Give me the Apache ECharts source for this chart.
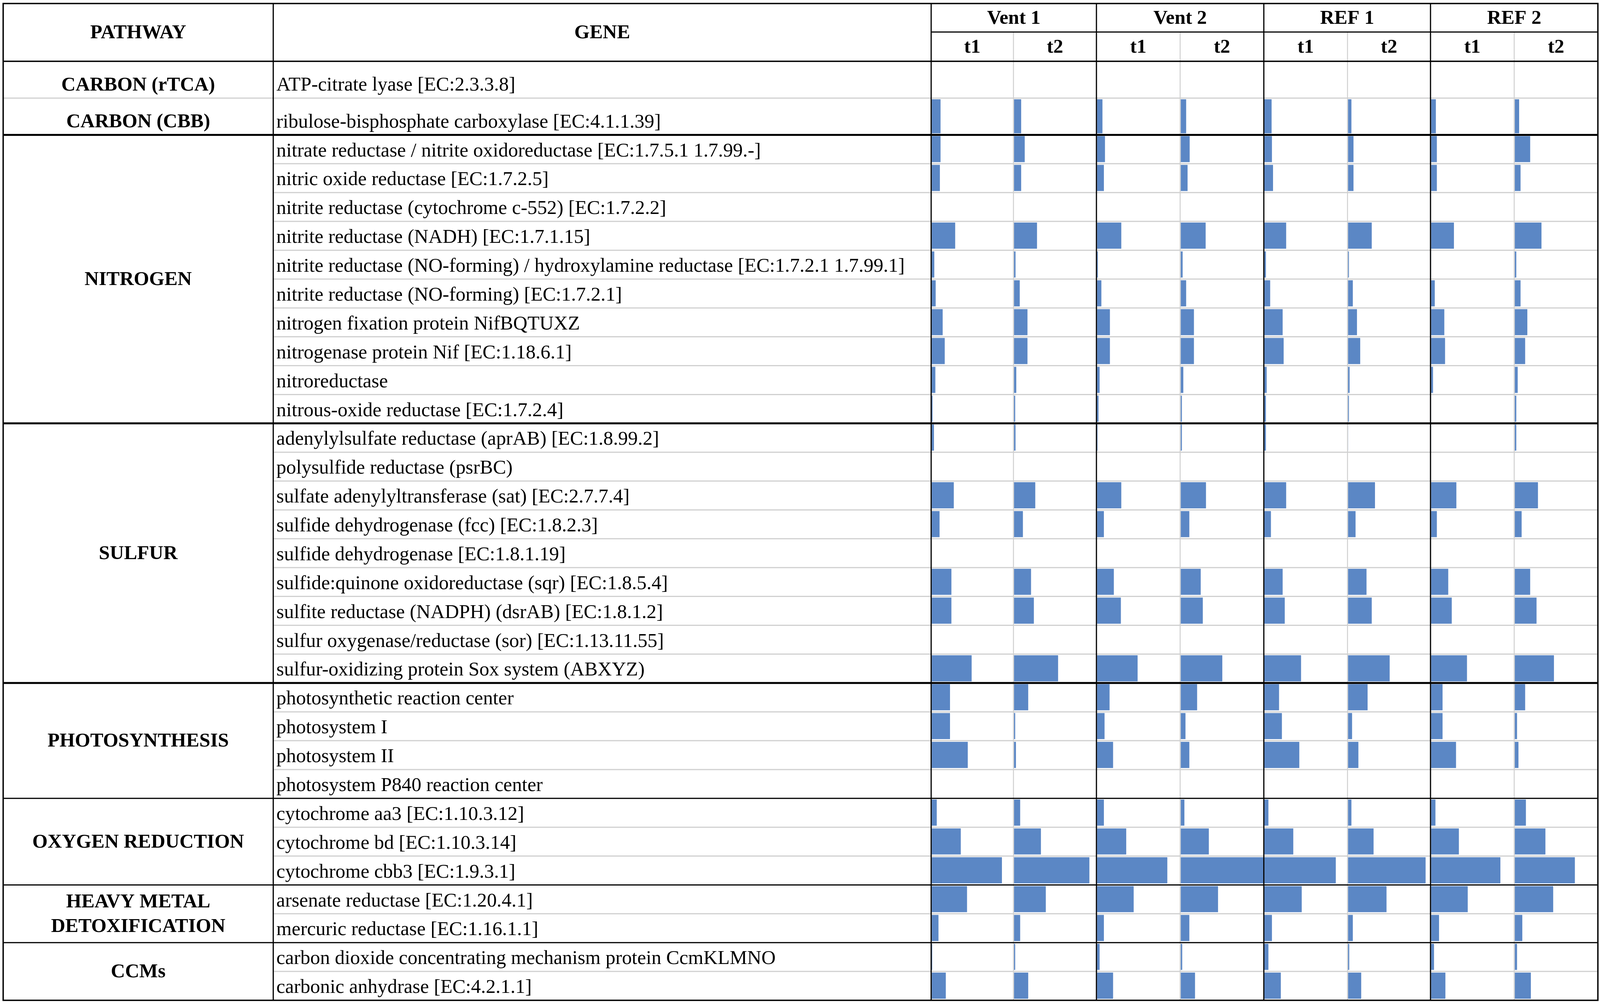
<!DOCTYPE html>
<html>
<head>
<meta charset="utf-8">
<title>Functional genes by pathway</title>
<script src="https://cdn.jsdelivr.net/npm/echarts@6/dist/echarts.min.js"></script>
<style>
    html, body { margin: 0; padding: 0; background: #fff; overflow: hidden; }
    #chart { width: 100vw; height: 100vh; }
</style>
</head>
<body>
<div id="chart"></div>
<script>
var genes = [
    'ATP-citrate lyase [EC:2.3.3.8]',
    'ribulose-bisphosphate carboxylase [EC:4.1.1.39]',
    'nitrate reductase / nitrite oxidoreductase [EC:1.7.5.1 1.7.99.-]',
    'nitric oxide reductase [EC:1.7.2.5]',
    'nitrite reductase (cytochrome c-552) [EC:1.7.2.2]',
    'nitrite reductase (NADH) [EC:1.7.1.15]',
    'nitrite reductase (NO-forming) / hydroxylamine reductase [EC:1.7.2.1 1.7.99.1]',
    'nitrite reductase (NO-forming) [EC:1.7.2.1]',
    'nitrogen fixation protein NifBQTUXZ',
    'nitrogenase protein Nif [EC:1.18.6.1]',
    'nitroreductase',
    'nitrous-oxide reductase [EC:1.7.2.4]',
    'adenylylsulfate reductase (aprAB) [EC:1.8.99.2]',
    'polysulfide reductase (psrBC)',
    'sulfate adenylyltransferase (sat) [EC:2.7.7.4]',
    'sulfide dehydrogenase (fcc) [EC:1.8.2.3]',
    'sulfide dehydrogenase [EC:1.8.1.19]',
    'sulfide:quinone oxidoreductase (sqr) [EC:1.8.5.4]',
    'sulfite reductase (NADPH) (dsrAB) [EC:1.8.1.2]',
    'sulfur oxygenase/reductase (sor) [EC:1.13.11.55]',
    'sulfur-oxidizing protein Sox system (ABXYZ)',
    'photosynthetic reaction center',
    'photosystem I',
    'photosystem II',
    'photosystem P840 reaction center',
    'cytochrome aa3 [EC:1.10.3.12]',
    'cytochrome bd [EC:1.10.3.14]',
    'cytochrome cbb3 [EC:1.9.3.1]',
    'arsenate reductase [EC:1.20.4.1]',
    'mercuric reductase [EC:1.16.1.1]',
    'carbon dioxide concentrating mechanism protein CcmKLMNO',
    'carbonic anhydrase [EC:4.2.1.1]'
];
var pathways = ['CARBON (rTCA)', 'CARBON (CBB)', 'NITROGEN', 'SULFUR', 'PHOTOSYNTHESIS',
    'OXYGEN REDUCTION', 'HEAVY METAL\nDETOXIFICATION', 'CCMs'];
var pathwayRows = [1, 1, 10, 9, 4, 3, 2, 2];
var sites = ['Vent 1', 'Vent 2', 'REF 1', 'REF 2'];
var times = ['t1', 't2'];

// bar length, % of the cell width
var vent1T1 = [0, 11.4, 11.4, 10.6, 0, 29.2, 3.8, 5.5, 14.0, 16.5, 5.1, 1.7, 3.4, 0, 27.5, 10.2, 0, 24.6, 24.6, 0, 49.2, 22.9, 22.9, 44.5, 0, 6.8, 36.0, 86.0, 43.6, 8.9, 1.3, 17.8];
var vent1T2 = [0, 9.3, 13.6, 9.3, 0, 28.4, 2.5, 7.6, 16.9, 16.9, 3.4, 2.1, 2.5, 0, 26.3, 11.4, 0, 21.2, 24.6, 0, 53.8, 17.8, 2.1, 3.0, 0, 8.1, 33.1, 91.5, 39.0, 8.1, 2.1, 17.8];
var vent2T1 = [0, 7.2, 10.2, 8.9, 0, 29.7, 1.7, 5.9, 16.1, 16.1, 3.8, 2.5, 1.3, 0, 29.7, 8.9, 0, 20.8, 29.2, 0, 49.2, 15.7, 9.7, 19.9, 0, 8.9, 35.6, 84.7, 44.5, 8.9, 3.8, 19.9];
var vent2T2 = [0, 7.2, 11.4, 8.9, 0, 30.5, 3.0, 7.2, 16.5, 16.5, 3.8, 2.1, 2.1, 0, 30.9, 11.0, 0, 24.6, 27.1, 0, 50.4, 20.3, 6.4, 11.0, 0, 5.1, 34.3, 100, 45.3, 11.0, 2.5, 17.8];
var ref1T1 = [0, 9.3, 9.7, 11.0, 0, 26.7, 2.5, 7.6, 22.5, 23.7, 3.4, 2.5, 2.5, 0, 26.7, 8.5, 0, 22.5, 25.0, 0, 44.5, 18.2, 21.6, 42.4, 0, 5.5, 35.2, 86.0, 45.3, 9.7, 5.5, 20.3];
var ref1T2 = [0, 4.7, 7.2, 7.2, 0, 29.2, 1.7, 6.4, 11.4, 15.3, 2.5, 1.7, 0.8, 0, 33.1, 9.7, 0, 22.9, 29.2, 0, 50.8, 24.2, 5.5, 13.1, 0, 4.7, 31.4, 94.1, 47.0, 6.4, 2.1, 16.5];
var ref2T1 = [0, 6.4, 7.6, 7.6, 0, 28.0, 0.8, 5.1, 16.5, 17.4, 3.0, 0.8, 0.8, 0, 30.9, 7.6, 0, 21.2, 25.4, 0, 43.6, 14.4, 14.4, 30.5, 0, 5.9, 33.9, 83.5, 44.5, 10.2, 4.2, 17.8];
var ref2T2 = [0, 5.9, 19.1, 7.6, 0, 32.6, 2.5, 7.6, 15.7, 13.1, 4.2, 2.5, 2.5, 0, 28.4, 8.9, 0, 19.1, 26.7, 0, 47.5, 13.1, 3.4, 5.1, 0, 14.0, 37.3, 72.5, 46.6, 9.7, 3.4, 19.9];
var columns = [vent1T1, vent1T2, vent2T1, vent2T2, ref1T1, ref1T2, ref2T1, ref2T2];

// layout is drawn for a 4550x2574 page and scaled to the real window
var dom = document.getElementById('chart');
var sx = dom.clientWidth / 4550, sy = dom.clientHeight / 2574;
var fs = Math.min(sx, sy);
function X(v) { return v * sx; }
function Y(v) { return v * sy; }

var FONT = '"Liberation Serif", "Times New Roman", serif';
var BLUE = '#5b87c5';
var GRAY = '#d0d0d0';
var box = {left: X(9), top: Y(9), right: X(4544), bottom: Y(2562)};
var headMid = Y(82), bodyTop = Y(157);
var pathRight = X(777), geneRight = X(2648);
var colEdges = [2648, 2882, 3118, 3356, 3594, 3832, 4068, 4306, 4544].map(X);
// line under each pathway block: 0 = thin grey
var sectionLine = [0, 5, 5, 5, 3, 3, 3];

// row heights in row units; single-row pathways at the top are taller
var rowStart = [], rowSize = [], sectionStart = [], sectionEnd = [];
var u = 0;
pathwayRows.forEach(function (n) {
    sectionStart.push(rowStart.length);
    for (var k = 0; k < n; k++) {
        var s = n === 1 ? 1.275 : 1;
        rowStart.push(u);
        rowSize.push(s);
        u += s;
    }
    sectionEnd.push(u);
});
var totalUnits = u;
var unitPx = (box.bottom - bodyTop) / totalUnits;
function rowY(units) {
    return bodyTop + units * unitPx;
}

var grids = [], xAxes = [], yAxes = [], series = [];
function addGrid(left, right) {
    var i = grids.length;
    grids.push({left: left, top: bodyTop, width: right - left, height: box.bottom - bodyTop});
    xAxes.push({type: 'value', gridIndex: i, min: 0, max: 100, show: false});
    yAxes.push({type: 'value', gridIndex: i, min: 0, max: totalUnits, inverse: true, show: false});
    return i;
}

columns.forEach(function (vals, c) {
    var g = addGrid(colEdges[c], colEdges[c + 1]);
    series.push({
        type: 'custom',
        name: sites[c >> 1] + ' ' + times[c % 2],
        xAxisIndex: g,
        yAxisIndex: g,
        data: vals.map(function (v, r) { return [v, r]; }),
        encode: {x: 0, y: 1},
        renderItem: function (params, api) {
            var v = api.value(0), r = api.value(1);
            if (!v) return null;
            var a = api.coord([0, rowStart[r]]);
            var b = api.coord([v, rowStart[r] + rowSize[r]]);
            return {
                type: 'rect',
                shape: {x: a[0] + 1.5, y: a[1] + 3 * sy, width: b[0] - a[0] - 1.5, height: b[1] - a[1] - 7 * sy},
                style: {fill: BLUE}
            };
        }
    });
});

var gGene = addGrid(pathRight, geneRight);
series.push({
    type: 'custom',
    xAxisIndex: gGene,
    yAxisIndex: gGene,
    data: genes.map(function (g, r) { return [0, r]; }),
    renderItem: function (params, api) {
        var r = api.value(1);
        var p = api.coord([0, rowStart[r] + rowSize[r]]);
        return {
            type: 'text',
            x: p[0] + 9 * sx,
            y: p[1] - 32 * sy,
            style: {text: genes[params.dataIndex], fontSize: 56 * fs, fontFamily: FONT, fill: '#000',
                align: 'left', verticalAlign: 'middle'}
        };
    }
});

var gPath = addGrid(box.left, pathRight);
series.push({
    type: 'custom',
    xAxisIndex: gPath,
    yAxisIndex: gPath,
    data: pathways.map(function (p, i) { return [50, i]; }),
    renderItem: function (params, api) {
        var i = api.value(1);
        var top = api.coord([api.value(0), rowStart[sectionStart[i]]]);
        var bot = api.coord([api.value(0), sectionEnd[i]]);
        var y = pathwayRows[i] === 1 ? bot[1] - 32 * sy : (top[1] + bot[1]) / 2 + 2 * sy;
        return {
            type: 'text',
            x: top[0],
            y: y,
            style: {text: pathways[params.dataIndex], fontSize: 56 * fs, fontWeight: 'bold', fontFamily: FONT,
                fill: '#000', align: 'center', verticalAlign: 'middle', lineHeight: 70 * fs}
        };
    }
});

// table rules and header cells
var graphic = [];
function hline(y, x1, x2, w, color) {
    graphic.push({type: 'line', z: 100, shape: {x1: x1, y1: y, x2: x2, y2: y},
        style: {stroke: color, lineWidth: w}});
}
function vline(x, y1, y2, w, color) {
    graphic.push({type: 'line', z: 100, shape: {x1: x, y1: y1, x2: x, y2: y2},
        style: {stroke: color, lineWidth: w}});
}
function headText(text, x, y) {
    graphic.push({type: 'text', z: 100, x: x, y: y,
        style: {text: text, fontSize: 56 * fs, fontWeight: 'bold', fontFamily: FONT, fill: '#000',
            align: 'center', verticalAlign: 'middle'}});
}

rowStart.forEach(function (s, r) {
    if (sectionStart.indexOf(r) < 0) hline(rowY(s), pathRight, box.right, 3, GRAY);
});
for (var k = 1; k < colEdges.length - 1; k += 2) {
    vline(colEdges[k], headMid, box.bottom, 2.5, GRAY);
}
sectionLine.forEach(function (w, i) {
    var y = rowY(sectionEnd[i]);
    if (w === 0) hline(y, box.left, box.right, 3, GRAY);
    else hline(y, box.left, box.right, w, '#000');
});
hline(bodyTop, box.left, box.right, 3.5, '#000');
hline(headMid, geneRight, box.right, 3, '#000');
[pathRight, geneRight, colEdges[2], colEdges[4], colEdges[6]].forEach(function (x) {
    vline(x, box.top, box.bottom, 3, '#000');
});
graphic.push({type: 'rect', z: 100, shape: {x: box.left, y: box.top, width: box.right - box.left, height: box.bottom - box.top},
    style: {fill: 'none', stroke: '#000', lineWidth: 3.5}});

headText('PATHWAY', (box.left + pathRight) / 2, (box.top + bodyTop) / 2 + 2 * sy);
headText('GENE', (pathRight + geneRight) / 2, (box.top + bodyTop) / 2 + 2 * sy);
sites.forEach(function (s, i) {
    headText(s, (colEdges[2 * i] + colEdges[2 * i + 2]) / 2, (box.top + headMid) / 2 + 2 * sy);
    times.forEach(function (t, j) {
        var c = 2 * i + j;
        headText(t, (colEdges[c] + colEdges[c + 1]) / 2, (headMid + bodyTop) / 2 + 2 * sy);
    });
});

var chart = echarts.init(dom);
chart.setOption({
    animation: false,
    backgroundColor: '#fff',
    grid: grids,
    xAxis: xAxes,
    yAxis: yAxes,
    series: series,
    graphic: graphic
});
</script>
</body>
</html>
